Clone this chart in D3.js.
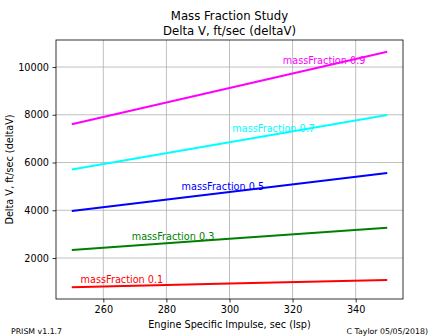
<!DOCTYPE html>
<html>
<head>
<meta charset="utf-8">
<script src="https://cdn.jsdelivr.net/npm/d3@7"></script>
<style>
  body { margin: 0; background: #fff; }
  svg { display: block; font-family: "DejaVu Sans", sans-serif; }
</style>
</head>
<body>
<div id="chart"></div>
<script>
// data
var isp = [250, 300, 350];
var massFractions = [0.1, 0.3, 0.5, 0.7, 0.9];
var deltaV01 = [775, 930, 1082];
var deltaV03 = [2335, 2802, 3269];
var deltaV05 = [3970, 4764, 5558];
var deltaV07 = [5706, 6847, 7988];
var deltaV09 = [7600, 9120, 10640];
var seriesColors = ["#ff0000", "#008000", "#0000ff", "#00ffff", "#ff00ff"];
// text anchors of the in-plot labels (data coords)
var labelIsp = [252.8, 269.0, 284.8, 300.9, 316.9];
var labelDeltaV = [938, 2755, 4853, 7273, 10126];
var xTicks = [260, 280, 300, 320, 340];
var yTicks = [2000, 4000, 6000, 8000, 10000];

var W = 448, H = 336;
var margin = {left: 56, right: 45, top: 40, bottom: 37};
var w = W - margin.left - margin.right;
var h = H - margin.top - margin.bottom;

var series = [deltaV01, deltaV03, deltaV05, deltaV07, deltaV09];

var svg = d3.select("#chart").append("svg").attr("width", W).attr("height", H);
var g = svg.append("g").attr("transform", "translate(" + margin.left + "," + margin.top + ")");

var x = d3.scaleLinear().domain([245, 355]).range([0, w]);
var y = d3.scaleLinear().domain([282, 11133]).range([h, 0]);

// grid
g.append("g").selectAll("line").data(xTicks).enter().append("line")
    .attr("x1", function(d){ return x(d); }).attr("x2", function(d){ return x(d); })
    .attr("y1", 0).attr("y2", h)
    .attr("stroke", "#b0b0b0").attr("stroke-width", 0.8);
g.append("g").selectAll("line").data(yTicks).enter().append("line")
    .attr("y1", function(d){ return y(d); }).attr("y2", function(d){ return y(d); })
    .attr("x1", 0).attr("x2", w)
    .attr("stroke", "#b0b0b0").attr("stroke-width", 0.8);

// lines
var line = d3.line()
    .x(function(d, i){ return x(isp[i]); })
    .y(function(d){ return y(d); });
series.forEach(function(s, i){
    g.append("path").datum(s)
        .attr("d", line)
        .attr("fill", "none")
        .attr("stroke", seriesColors[i])
        .attr("stroke-width", 2);
    g.append("text")
        .attr("x", x(labelIsp[i]))
        .attr("y", y(labelDeltaV[i]))
        .attr("fill", seriesColors[i])
        .attr("font-size", "9.7px")
        .text("massFraction " + massFractions[i]);
});

// axes
var xAxis = d3.axisBottom(x).tickValues(xTicks).tickSize(3.5).tickPadding(3.5);
var yAxis = d3.axisLeft(y).tickValues(yTicks).tickSize(3.5).tickPadding(3.5).tickFormat(d3.format("d"));
var xg = g.append("g").attr("transform", "translate(0," + h + ")").call(xAxis);
var yg = g.append("g").call(yAxis);
[xg, yg].forEach(function(a){
    a.select(".domain").remove();
    a.selectAll("line").attr("stroke", "#000").attr("stroke-width", 0.8);
    a.selectAll("text").attr("font-size", "9.7px").attr("fill", "#000")
        .attr("font-family", "DejaVu Sans");
});

// frame
g.append("rect").attr("x", 0).attr("y", 0).attr("width", w).attr("height", h)
    .attr("fill", "none").attr("stroke", "#000").attr("stroke-width", 0.8);

// titles
svg.append("text").attr("x", margin.left + w / 2).attr("y", 19.5)
    .attr("text-anchor", "middle").attr("font-size", "11.7px").text("Mass Fraction Study");
svg.append("text").attr("x", margin.left + w / 2).attr("y", 35)
    .attr("text-anchor", "middle").attr("font-size", "11.7px").text("Delta V, ft/sec (deltaV)");
svg.append("text").attr("x", margin.left + w / 2).attr("y", 328)
    .attr("text-anchor", "middle").attr("font-size", "9.7px").text("Engine Specific Impulse, sec (Isp)");
svg.append("text").attr("transform", "translate(13," + (margin.top + h / 2) + ") rotate(-90)")
    .attr("text-anchor", "middle").attr("font-size", "9.7px").text("Delta V, ft/sec (deltaV)");

// footer
svg.append("text").attr("x", 11).attr("y", 334).attr("font-size", "7.8px").text("PRISM v1.1.7");
svg.append("text").attr("x", 428).attr("y", 334).attr("text-anchor", "end")
    .attr("font-size", "7.8px").text("C Taylor 05/05/2018)");
</script>
</body>
</html>
